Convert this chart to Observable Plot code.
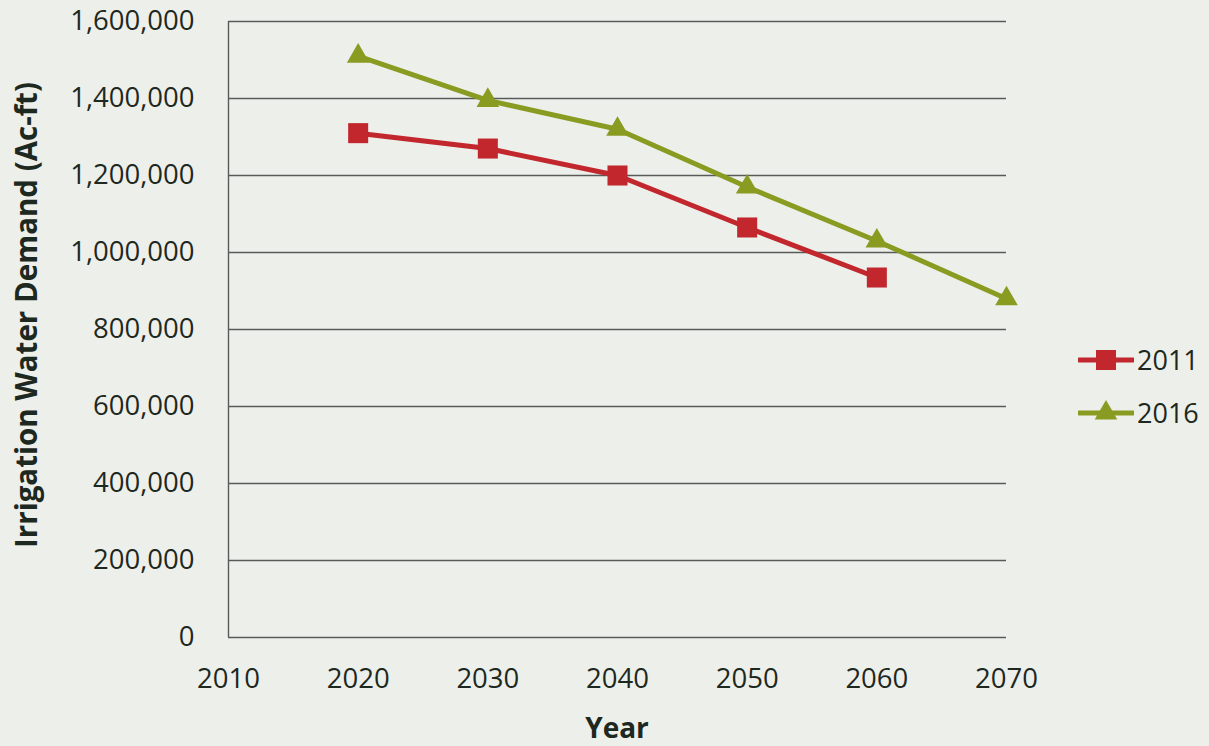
<!DOCTYPE html>
<html>
<head>
<meta charset="utf-8">
<script src="https://cdn.jsdelivr.net/npm/d3@7"></script>
<script src="https://cdn.jsdelivr.net/npm/@observablehq/plot@0.6"></script>
<style>
  html, body { margin: 0; padding: 0; background: #edefeb; }
  #wrap { position: relative; width: 1209px; height: 746px; background: #edefeb; font-family: "Open Sans", sans-serif; color: #1d2820; overflow: hidden; }
  #chart { position: absolute; left: 0; top: 0; }
  .ytitle { position: absolute; left: 26px; top: 315px; transform: translate(-50%, -50%) rotate(-90deg); font-weight: 700; font-size: 29.5px; line-height: 1; white-space: nowrap; }
  .xtitle { position: absolute; left: 617px; top: 727px; transform: translate(-50%, -50%); font-weight: 700; font-size: 28px; line-height: 1; white-space: nowrap; }
  .legend { position: absolute; left: 1078px; top: 333px; }
  .legend .item { display: flex; align-items: center; height: 53px; font-size: 27px; }
  .legend svg { margin-right: 3px; }
</style>
</head>
<body>
<div id="wrap">
  <div id="chart"></div>
  <div class="ytitle">Irrigation Water Demand (Ac-ft)</div>
  <div class="xtitle">Year</div>
  <div class="legend" id="legend"></div>
</div>
<script>
// Projected irrigation water demand by plan year
const years = [2020, 2030, 2040, 2050, 2060, 2070];
const demand2011 = [1310000, 1270000, 1200000, 1065000, 935000];
const demand2016 = [1510000, 1395000, 1320000, 1170000, 1030000, 880000];
const seriesNames = ["2011", "2016"];
const seriesColors = ["#c1272d", "#8a9b22"];
const seriesSymbols = ["square", "triangle"];
const xTicks = [2010, 2020, 2030, 2040, 2050, 2060, 2070];
const yTicks = [0, 200000, 400000, 600000, 800000, 1000000, 1200000, 1400000, 1600000];

const rows = [
  ...demand2011.map((v, i) => ({year: years[i], value: v, series: seriesNames[0]})),
  ...demand2016.map((v, i) => ({year: years[i], value: v, series: seriesNames[1]}))
];
const fmt = d3.format(",");

const chart = Plot.plot({
  width: 1209,
  height: 746,
  marginLeft: 228,
  marginRight: 203,
  marginTop: 21,
  marginBottom: 109,
  style: {background: "transparent", fontFamily: "Open Sans, sans-serif", fontSize: "27.5px", color: "#1d2820"},
  x: {domain: [2010, 2070], ticks: xTicks, tickFormat: d => String(d), tickSize: 0, tickPadding: 31, label: null},
  y: {domain: [0, 1600000], ticks: yTicks, tickFormat: fmt, tickSize: 0, tickPadding: 34, label: null},
  color: {domain: seriesNames, range: seriesColors},
  symbol: {domain: seriesNames, range: seriesSymbols},
  marks: [
    Plot.ruleY(yTicks, {stroke: "#575b57", strokeWidth: 1.4}),
    Plot.ruleX([xTicks[0]], {stroke: "#575b57", strokeWidth: 1.4}),
    Plot.line(rows, {x: "year", y: "value", z: "series", stroke: "series", strokeWidth: 5}),
    Plot.dot(rows.filter(d => d.series === seriesNames[0]), {x: "year", y: "value", fill: "series", symbol: "series", r: 11.3, stroke: null}),
    Plot.dot(rows.filter(d => d.series === seriesNames[1]), {x: "year", y: "value", fill: "series", symbol: "series", r: 8.4, stroke: null})
  ]
});
document.getElementById("chart").append(chart);

// Legend: line sample with marker, then series name
const legend = d3.select("#legend");
seriesNames.forEach((name, i) => {
  const item = legend.append("div").attr("class", "item");
  const svg = item.append("svg").attr("width", 56).attr("height", 30);
  svg.append("line").attr("x1", 1).attr("x2", 55).attr("y1", 15).attr("y2", 15)
    .attr("stroke", seriesColors[i]).attr("stroke-width", 5).attr("stroke-linecap", "round");
  const sym = seriesSymbols[i] === "square" ? d3.symbolSquare : d3.symbolTriangle;
  const size = seriesSymbols[i] === "square" ? Math.PI * 11.3 * 11.3 : Math.PI * 8.4 * 8.4;
  svg.append("path").attr("d", d3.symbol(sym, size)()).attr("transform", "translate(28,15)").attr("fill", seriesColors[i]);
  item.append("span").text(name);
});
</script>
</body>
</html>
